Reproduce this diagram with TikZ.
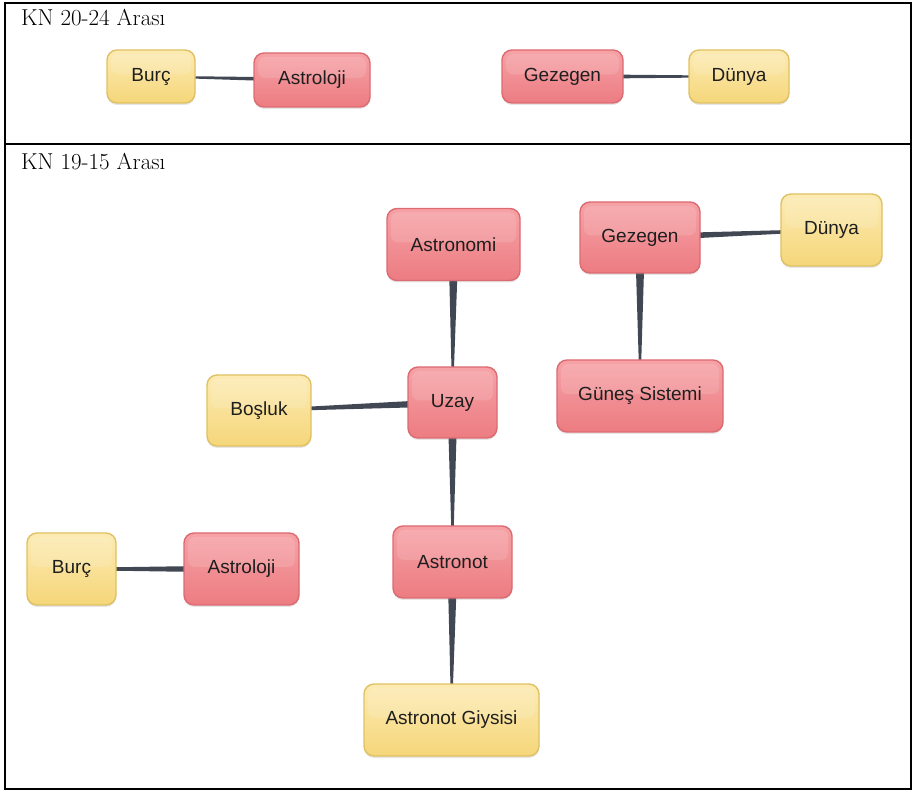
\documentclass[tikz,border=0pt]{standalone}
\usepackage{fontspec}
\newfontfamily\nodefont{Liberation Sans}
\usetikzlibrary{calc,backgrounds,shadows}
\definecolor{redtop}{HTML}{F6A2A6}
\definecolor{redbot}{HTML}{EC7C82}
\definecolor{redline}{HTML}{DC6A71}
\definecolor{yeltop}{HTML}{FCEBB3}
\definecolor{yelbot}{HTML}{F5D67A}
\definecolor{yelline}{HTML}{DFC163}
\definecolor{conncol}{HTML}{414854}
\definecolor{txtcol}{HTML}{1E1E1E}
\newcommand\wedgeconn[4]{%
  \fill[conncol] let \p1=(#1.center), \p2=(#2.center),
    \n1={atan2(\y2-\y1,\x2-\x1)} in
    ($(\p1)+(\n1+90:#3)$) -- ($(\p2)+(\n1+90:#4)$) --
    ($(\p2)+(\n1-90:#4)$) -- ($(\p1)+(\n1-90:#3)$) -- cycle;}
\tikzset{
  boxbase/.style={rounded corners=10pt, line width=1.4pt, text=txtcol,
    font=\nodefont\fontsize{19}{22}\selectfont, inner sep=0pt,
    drop shadow={shadow xshift=0pt, shadow yshift=-2pt, opacity=0.2},
    path picture={\fill[white, opacity=0.13, rounded corners=7pt]
      ($(path picture bounding box.north west)+(4pt,-4pt)$) rectangle
      ($(path picture bounding box.east)+(-4pt,2pt)$);}},
  redbox/.style={boxbase, draw=redline, top color=redtop, bottom color=redbot},
  yelbox/.style={boxbase, draw=yelline, top color=yeltop, bottom color=yelbot},
  header/.style={anchor=base west, inner sep=0pt, font=\fontsize{23}{26}\selectfont},
  frame/.style={line width=2pt, draw=black}
}
\begin{document}
\begin{tikzpicture}[x=1pt,y=-1pt]
\useasboundingbox (0,0) rectangle (914,791);
% table
\draw[frame] (5,3) rectangle (911,789);
\draw[frame] (5,144) -- (911,144);
\node[header] (h1) at (21,26) {KN 20-24 Arası};
\node[header] (h2) at (21,170) {KN 19-15 Arası};
% top row
\node[yelbox, minimum width=88pt, minimum height=53pt] (tburc) at (151,76.5) {Burç};
\node[redbox, minimum width=116pt, minimum height=54pt] (tastro) at (312,80) {Astroloji};
\node[redbox, minimum width=121pt, minimum height=53pt] (tgez) at (562.5,76.5) {Gezegen};
\node[yelbox, minimum width=100pt, minimum height=53pt] (tdun) at (739,76.5) {Dünya};
% bottom row
\node[redbox, minimum width=133pt, minimum height=72pt] (astronomi) at (453.5,244.5) {Astronomi};
\node[redbox, minimum width=120pt, minimum height=71pt] (gez) at (640,237.5) {Gezegen};
\node[yelbox, minimum width=101pt, minimum height=72pt] (dun) at (831.5,230) {Dünya};
\node[redbox, minimum width=89pt, minimum height=71pt] (uzay) at (452.5,402.5) {Uzay};
\node[redbox, minimum width=166pt, minimum height=72pt] (gunes) at (640,396) {Güneş Sistemi};
\node[yelbox, minimum width=104pt, minimum height=71pt] (bosluk) at (259,410.5) {Boşluk};
\node[yelbox, minimum width=89pt, minimum height=72pt] (burc) at (71.5,569) {Burç};
\node[redbox, minimum width=115pt, minimum height=72pt] (astroloji) at (241.5,569) {Astroloji};
\node[redbox, minimum width=119pt, minimum height=72pt] (astronot) at (452.5,562) {Astronot};
\node[yelbox, minimum width=175pt, minimum height=72pt] (giysi) at (451.5,720) {Astronot Giysisi};
% connectors
\begin{scope}[on background layer]
\wedgeconn{tastro}{tburc}{2.4pt}{0.7pt}
\wedgeconn{tgez}{tdun}{2.4pt}{0.7pt}
\wedgeconn{astronomi}{uzay}{5pt}{0.2pt}
\wedgeconn{gez}{gunes}{5pt}{0.2pt}
\wedgeconn{gez}{dun}{3.6pt}{1.1pt}
\wedgeconn{uzay}{bosluk}{3.8pt}{1.1pt}
\wedgeconn{uzay}{astronot}{5pt}{0.2pt}
\wedgeconn{astronot}{giysi}{5pt}{0.2pt}
\wedgeconn{astroloji}{burc}{3.6pt}{1.1pt}
\end{scope}
\end{tikzpicture}
\end{document}
